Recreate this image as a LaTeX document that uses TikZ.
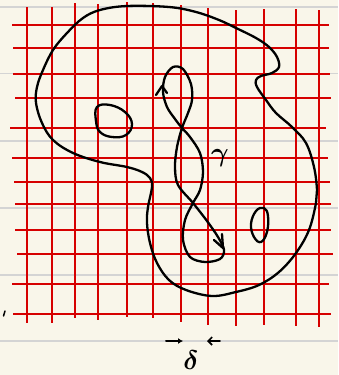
\documentclass[tikz,border=0pt]{standalone}
\usepackage{xcolor}
\usetikzlibrary{arrows.meta}

\definecolor{paper}{RGB}{249,246,234}
\definecolor{rulegray}{RGB}{212,212,212}
\definecolor{gridred}{RGB}{214,0,0}

\begin{document}
\begin{tikzpicture}[x=1pt, y=-1pt,
  ruling/.style={rulegray, line width=1.4pt},
  gridline/.style={gridred, line width=2.4pt},
  ink/.style={black, line width=2.3pt, line cap=round, line join=round},
  label/.style={inner sep=0pt, scale=2.7, font=\boldmath}]
  % paper and its printed rules
  \fill[paper] (0,0) rectangle (338,375);
  \useasboundingbox (0,0) rectangle (338,375);
  \foreach \y in {7,73.5,141,208,275,341}
    \draw[ruling] (0,\y) -- (338,\y);
  % hand-drawn red grid (each line with its own ends)
  \foreach \x/\a/\b in {27/7/323, 52/7/323, 75/3/318, 98/4/320, 127/2/317,
                        153/3/318, 181/5/322, 208/8/325, 236/10/326,
                        264/9/325, 296/9/326, 319/10/327}
    \draw[gridline] (\x,\a) -- (\x,\b);
  \foreach \y/\a/\b in {25/12/329, 48/13/329, 74/13/330, 98/15/331,
                        128/10/326, 158/12/328, 182/14/330, 204/15/331,
                        230/15/331, 254/17/333, 284/12/329, 314/13/331}
    \draw[gridline] (\a,\y) -- (\b,\y);
  % outer region
  \draw[ink] plot[smooth cycle, tension=0.6] coordinates {
    (127,6) (169,7) (196,12) (219,20) (236,28) (256,38) (269,47) (277,57)
    (279,67) (272,73) (261,76) (256,80) (257,87) (266,100) (276,113)
    (292,127) (306,143) (314,167) (317,190) (316,203) (309,230) (296,253)
    (279,272) (259,285) (236,292) (212,296) (186,290) (169,280) (157,263)
    (150,243) (147,223) (148,207) (152,187) (150,178) (142,172) (127,167)
    (100,162) (73,153) (53,140) (42,123) (36,103) (37,87) (43,70) (53,50)
    (67,33) (83,18) (100,10)};
  % holes
  \draw[ink] plot[smooth cycle, tension=0.7] coordinates {
    (97,107) (110,105) (125,112) (132,124) (126,135) (112,137) (100,132) (96,121)};
  \draw[ink] plot[smooth cycle, tension=0.7] coordinates {
    (264,208) (268,216) (267,232) (261,242) (254,237) (251,224) (256,211)};
  % the curve gamma with its two crossings
  \draw[ink] plot[smooth cycle, tension=0.55] coordinates {
    (182,128) (175,119) (167,107) (163,92) (165,77) (173,67) (183,69)
    (191,84) (192,100) (188,113) (182,128) (177,147) (175,167) (178,185)
    (193,203) (207,221) (218,237) (224,250) (220,259) (205,262) (190,257)
    (183,240) (185,220) (193,203) (200,190) (203,172) (200,153) (190,137)};
  % direction marks on gamma
  \draw[ink] (156,95) -- (162,86) -- (167,93);
  \draw[ink] (214,240) -- (223,248) -- (222,234);
  \node[label] (gammalabel) at (220,158) {$\gamma$};
  % spacing delta between two grid lines
  \coordinate (dlA) at (166,341);
  \coordinate (dlB) at (183,341);
  \coordinate (drA) at (220,341);
  \coordinate (drB) at (207,341);
  \draw[ink, line width=2pt, -{Latex[length=5pt, width=6pt]}] (dlA) -- (dlB);
  \draw[ink, line width=1.6pt, -{Straight Barb[length=4pt, width=8pt]}] (drA) -- (drB);
  \node[label] (deltalabel) at (191,360) {$\delta$};
  % stray pen mark
  \draw[ink, line width=1.5pt] (3.5,316) -- (5,311);
\end{tikzpicture}
\end{document}
